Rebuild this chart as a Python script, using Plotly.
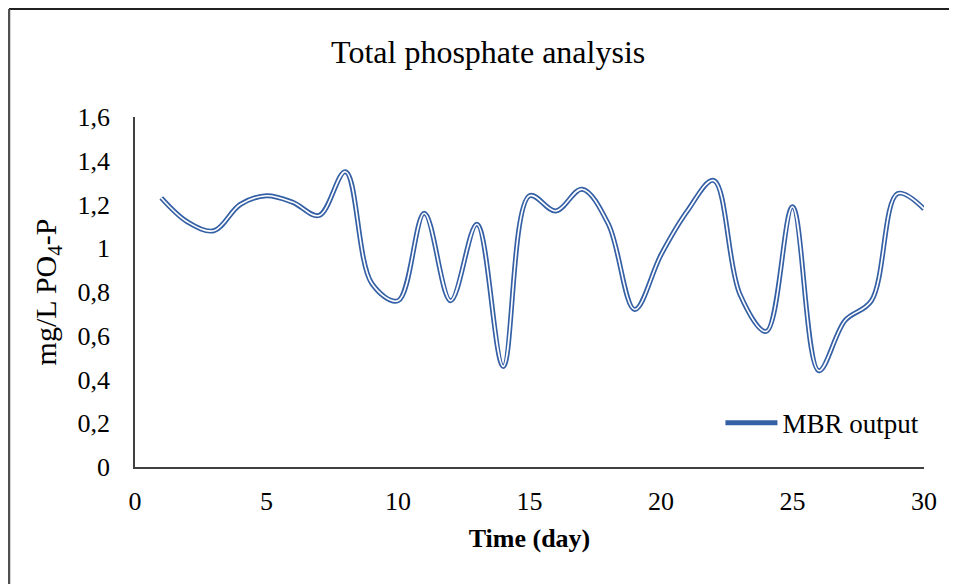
import plotly.graph_objects as go

days = list(range(1, 31))
mbr_output = [1.23, 1.12, 1.08, 1.20, 1.24, 1.21, 1.15, 1.35, 0.84, 0.76,
              1.16, 0.76, 1.11, 0.46, 1.24, 1.17, 1.27, 1.11, 0.72, 0.97,
              1.17, 1.31, 0.79, 0.62, 1.19, 0.44, 0.67, 0.76, 1.25, 1.18]
x_ticks = [0, 5, 10, 15, 20, 25, 30]
y_ticks = [0, 0.2, 0.4, 0.6, 0.8, 1.0, 1.2, 1.4, 1.6]
y_tick_labels = ["0", "0,2", "0,4", "0,6", "0,8", "1", "1,2", "1,4", "1,6"]

FONT = "Liberation Serif, Times New Roman, serif"
BLUE = "#3560a5"

fig = go.Figure()
fig.add_trace(go.Scatter(
    x=days, y=mbr_output, mode="lines", name="MBR output",
    line=dict(color=BLUE, width=5, shape="spline", smoothing=1.0),
))
fig.add_trace(go.Scatter(
    x=days, y=mbr_output, mode="lines", showlegend=False, hoverinfo="skip",
    line=dict(color="white", width=1.6, shape="spline", smoothing=1.0),
))

fig.update_layout(
    width=949, height=576,
    margin=dict(l=127, r=33, t=109, b=117),
    paper_bgcolor="white", plot_bgcolor="white",
    font=dict(family=FONT, size=26, color="black"),
    title=dict(text="Total phosphate analysis", x=0.506, xanchor="center",
               y=0.924, yanchor="middle", font=dict(size=32, family=FONT)),
    showlegend=True,
    legend=dict(x=0.742, y=0.125, xanchor="left", yanchor="middle",
                bgcolor="rgba(0,0,0,0)", font=dict(size=27, family=FONT),
                itemwidth=52),
    xaxis=dict(range=[0, 30], tickvals=x_ticks, showgrid=False, zeroline=False,
               showline=True, linecolor="#404040", linewidth=1.5,
               ticks="", ticklabelstandoff=10,
               title=dict(text="<b>Time (day)</b>", standoff=14,
                          font=dict(size=26, family=FONT))),
    yaxis=dict(range=[0, 1.6], tickvals=y_ticks, ticktext=y_tick_labels,
               showgrid=False, zeroline=False,
               showline=True, linecolor="#404040", linewidth=1.5,
               ticks="", ticklabelstandoff=18,
               title=dict(text="mg/L PO<sub>4</sub>-P", standoff=12,
                          font=dict(size=30, family=FONT))),
    shapes=[
        dict(type="line", xref="paper", yref="paper", x0=-0.1597, x1=1.2,
             y0=1.3086, y1=1.3086, line=dict(color="#202020", width=2)),
        dict(type="line", xref="paper", yref="paper", x0=-0.1597, x1=-0.1597,
             y0=1.3086, y1=-0.5, line=dict(color="#505050", width=2.5)),
    ],
)

fig.write_html("out.html")
